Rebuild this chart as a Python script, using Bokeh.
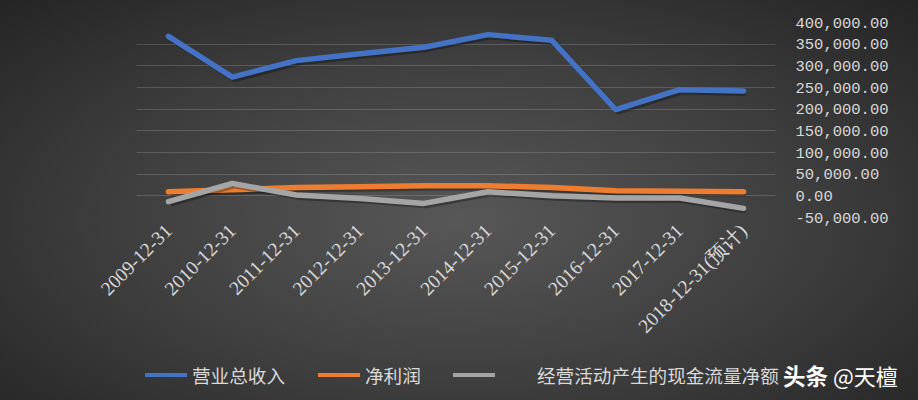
import math
from bokeh.plotting import figure
from bokeh.layouts import column
from bokeh.models import (ColumnDataSource, FixedTicker, NumeralTickFormatter,
                          Range1d, Div)
from bokeh.transform import dodge
from bokeh.embed import file_html
from bokeh.resources import INLINE

# data (units as in the source, 万元)
dates = ["2009-12-31", "2010-12-31", "2011-12-31", "2012-12-31", "2013-12-31",
         "2014-12-31", "2015-12-31", "2016-12-31", "2017-12-31", "2018-12-31(预计)"]
revenue = [368000, 274000, 312000, 328000, 343000, 372000, 359000, 199000, 245000, 242000]
net_profit = [9500, 14000, 19500, 21000, 23000, 23000, 19500, 12000, 10500, 9700]
cash_flow = [-13500, 28500, 2000, -6000, -17500, 9500, 0, -5000, -5000, -29000]
y_ticks = [-50000, 0, 50000, 100000, 150000, 200000, 250000, 300000, 350000, 400000]

series_names = ["营业总收入", "净利润", "经营活动产生的现金流量净额"]
colors = ["#4472C4", "#ED7D31", "#A5A5A5"]

src = ColumnDataSource(data=dict(date=dates, rev=revenue, profit=net_profit, cash=cash_flow))

W = 918
p = figure(x_range=dates, y_range=Range1d(-50000, 400000), width=W, height=350,
           output_backend="svg", toolbar_location=None, y_axis_location="right",
           min_border_left=136, min_border_right=143, min_border_top=22,
           min_border_bottom=133)
p.background_fill_color = None
p.border_fill_color = None
p.outline_line_color = None

p.xgrid.grid_line_color = None
p.ygrid.grid_line_color = "#ffffff"
p.ygrid.grid_line_alpha = 0.16
p.ygrid.ticker = FixedTicker(ticks=y_ticks)

# right axis
p.yaxis.ticker = FixedTicker(ticks=y_ticks)
p.yaxis.formatter = NumeralTickFormatter(format="0,0.00")
p.yaxis.axis_line_color = None
p.yaxis.major_tick_line_color = None
p.yaxis.minor_tick_line_color = None
p.yaxis.major_label_standoff = 14
p.yaxis.major_label_text_font = "Liberation Mono"
p.yaxis.major_label_text_font_size = "15.5px"
p.yaxis.major_label_text_color = "#d9d9d9"

# bottom axis
p.xaxis.axis_line_color = None
p.xaxis.major_tick_line_color = None
p.xaxis.major_label_orientation = math.pi / 4
p.xaxis.major_label_standoff = 4
p.xaxis.major_label_text_font = "Liberation Serif"
p.xaxis.major_label_text_font_size = "19.5px"
p.xaxis.major_label_text_color = "#d9d9d9"

# shadows then lines
for col, c in zip(["rev", "profit", "cash"], colors):
    p.line(x=dodge("date", 0.035, range=p.x_range), y=dodge(col, -4500), source=src,
           line_color="#000000", line_alpha=0.3, line_width=6, line_join="round")
    p.line(x="date", y=col, source=src, line_color=c, line_width=5.5,
           line_join="round", line_cap="round")

# legend row + watermark as html below the plot
swatch_x = [145, 318, 453]
label_x = [192, 365, 537]
txt = "font-family:'Noto Sans CJK SC',sans-serif;white-space:nowrap;position:absolute;top:0;height:50px;line-height:50px;"
html = '<div style="position:relative;width:918px;height:50px;">'
for name, c, sx, lx in zip(series_names, colors, swatch_x, label_x):
    html += (f'<div style="position:absolute;left:{sx}px;top:23px;width:42px;height:4px;'
             f'background:{c};"></div>')
    html += f'<div style="{txt}left:{lx}px;font-size:18.6px;color:#d9d9d9;">{name}</div>'
html += f'<div style="{txt}left:783px;font-size:22.5px;font-weight:bold;color:#ffffff;">头条</div>'
html += f'<div style="{txt}left:833px;font-size:22px;color:#ffffff;">@天檀</div>'
html += '</div>'
legend_row = Div(text=html, width=W, height=50, styles={"margin": "0", "padding": "0"})

page = column(p, legend_row, spacing=0,
              styles={"background": "radial-gradient(ellipse at 50% 55%, #575757 0%, #3d3d3d 55%, #242424 100%)"})

open("out.html", "w").write(file_html(page, INLINE))
